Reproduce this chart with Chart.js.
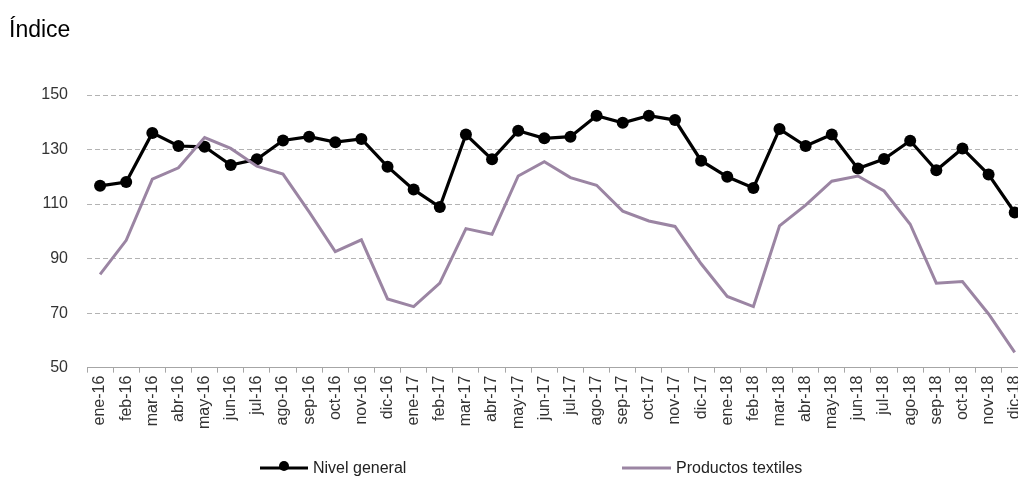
<!DOCTYPE html>
<html>
<head>
<meta charset="utf-8">
<script src="https://cdn.jsdelivr.net/npm/chart.js@4/dist/chart.umd.min.js"></script>
<style>
  html, body { margin: 0; padding: 0; background: #fff; overflow: hidden; }
  #wrap { position: relative; width: 1037px; height: 477px; }
</style>
</head>
<body>
<div id="wrap"><canvas id="grafico" width="1037" height="477"></canvas></div>
<script>
const meses = [
  'ene-16','feb-16','mar-16','abr-16','may-16','jun-16','jul-16','ago-16','sep-16','oct-16','nov-16','dic-16',
  'ene-17','feb-17','mar-17','abr-17','may-17','jun-17','jul-17','ago-17','sep-17','oct-17','nov-17','dic-17',
  'ene-18','feb-18','mar-18','abr-18','may-18','jun-18','jul-18','ago-18','sep-18','oct-18','nov-18','dic-18'
];

const nivelGeneral = [
  116.7, 118.1, 136.1, 131.3, 131.0, 124.3, 126.4, 133.3, 134.7, 132.7, 133.9, 123.7,
  115.3, 108.9, 135.5, 126.4, 136.9, 134.1, 134.7, 142.4, 139.8, 142.4, 140.8, 125.9,
  120.0, 115.9, 137.5, 131.3, 135.5, 123.0, 126.5, 133.2, 122.4, 130.4, 120.8, 106.9
];

const productosTextiles = [
  84.2, 96.7, 119.1, 123.3, 134.4, 130.4, 123.9, 121.0, 107.1, 92.6, 96.9, 75.2,
  72.4, 81.0, 101.0, 98.9, 120.3, 125.5, 119.7, 116.9, 107.4, 103.8, 101.8, 88.1,
  76.1, 72.4, 102.0, 109.6, 118.4, 120.3, 114.8, 102.6, 81.0, 81.6, 69.7, 55.6
];

const yTicks = [50, 70, 90, 110, 130, 150];

const etiquetaSerie1 = 'Nivel general';
const etiquetaSerie2 = 'Productos textiles';
const tituloY = 'Índice';

const colorNivel = '#000000';
const colorTextil = '#9B85A3';
const fuente = '"Liberation Sans", Arial, sans-serif';

// titulo y leyenda dibujados a mano
const extras = {
  id: 'extras',
  afterDraw(chart) {
    const ctx = chart.ctx;
    ctx.save();
    ctx.fillStyle = '#000';
    ctx.font = '23px ' + fuente;
    ctx.textBaseline = 'alphabetic';
    ctx.textAlign = 'left';
    ctx.fillText(tituloY, 9, 37);

    const ly = 468;
    // Nivel general
    ctx.strokeStyle = colorNivel;
    ctx.lineWidth = 3;
    ctx.beginPath();
    ctx.moveTo(260, ly);
    ctx.lineTo(308, ly);
    ctx.stroke();
    ctx.fillStyle = colorNivel;
    ctx.beginPath();
    ctx.arc(284, ly - 2, 5, 0, Math.PI * 2);
    ctx.fill();
    // Productos textiles
    ctx.strokeStyle = colorTextil;
    ctx.beginPath();
    ctx.moveTo(622, ly);
    ctx.lineTo(671, ly);
    ctx.stroke();

    ctx.fillStyle = '#222';
    ctx.font = '16px ' + fuente;
    ctx.textBaseline = 'middle';
    ctx.fillText(etiquetaSerie1, 313, ly + 1);
    ctx.fillText(etiquetaSerie2, 676, ly + 1);
    ctx.restore();
  }
};

const ctx = document.getElementById('grafico').getContext('2d');

new Chart(ctx, {
  type: 'line',
  data: {
    labels: meses,
    datasets: [
      {
        label: etiquetaSerie2,
        data: productosTextiles,
        borderColor: colorTextil,
        backgroundColor: colorTextil,
        borderWidth: 3,
        pointRadius: 0,
        tension: 0
      },
      {
        label: etiquetaSerie1,
        data: nivelGeneral,
        borderColor: colorNivel,
        backgroundColor: colorNivel,
        borderWidth: 3.2,
        pointRadius: 6,
        pointBackgroundColor: colorNivel,
        pointBorderWidth: 0,
        tension: 0
      }
    ]
  },
  options: {
    responsive: false,
    animation: false,
    layout: { padding: { left: 0, right: 0, top: 95, bottom: 45 } },
    plugins: {
      legend: { display: false },
      title: { display: false },
      tooltip: { enabled: false }
    },
    scales: {
      x: {
        offset: true,
        grid: {
          offset: true,
          drawOnChartArea: false,
          drawTicks: true,
          tickLength: 5,
          color: '#a6a6a6'
        },
        border: { display: true, color: '#a6a6a6', width: 1 },
        ticks: {
          autoSkip: false,
          maxRotation: 90,
          minRotation: 90,
          padding: 3,
          color: '#333',
          font: { family: fuente, size: 16 }
        }
      },
      y: {
        min: 50,
        max: 150,
        afterFit(scale) { scale.width = 87; },
        afterBuildTicks(scale) { scale.ticks = yTicks.map(v => ({ value: v })); },
        grid: {
          drawTicks: false,
          color: (c) => c.tick && c.tick.value === 50 ? 'rgba(0,0,0,0)' : '#b3b3b3',
          lineWidth: 1
        },
        border: { display: false, dash: [5, 3] },
        ticks: {
          padding: 19,
          color: '#333',
          font: { family: fuente, size: 16 }
        }
      }
    }
  },
  plugins: [extras]
});
</script>
</body>
</html>
